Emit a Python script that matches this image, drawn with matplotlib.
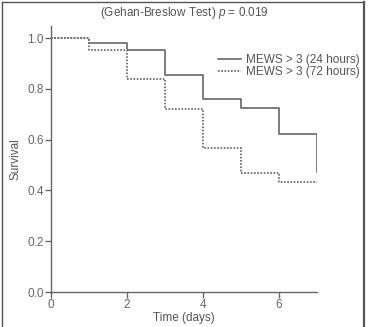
import matplotlib
matplotlib.use('Agg')
import matplotlib.pyplot as plt
from matplotlib.lines import Line2D

plt.rcParams['font.family'] = ['Liberation Sans', 'DejaVu Sans']
plt.rcParams['mathtext.fontset'] = 'custom'
plt.rcParams['mathtext.it'] = 'Liberation Sans:italic'
plt.rcParams['mathtext.rm'] = 'Liberation Sans'

days = [0, 1, 2, 3, 4, 5, 6, 7]
surv_24h = [1.0, 0.981, 0.953, 0.854, 0.762, 0.723, 0.623, 0.474]
surv_72h = [1.0, 0.955, 0.84, 0.719, 0.568, 0.47, 0.432, 0.432]
labels = ['MEWS > 3 (24 hours)', 'MEWS > 3 (72 hours)']
x_ticks = [0, 2, 4, 6]
y_ticks = [0.0, 0.2, 0.4, 0.6, 0.8, 1.0]

text_col = '#555555'
line_col = '#5a5a5a'

fig = plt.figure(figsize=(3.68, 3.27), dpi=100)
ax = fig.add_axes([0.138, 0.107, 0.723, 0.813])

ax.step(days, surv_24h, where='post', color=line_col, lw=1.1, label=labels[0])
ax.step(days, surv_72h, where='post', color='#6a6a6a', lw=1.3,
        linestyle=(0, (0.9, 0.9)), gapcolor='white', label=labels[1])

ax.set_xlim(0, 7)
ax.set_ylim(0, 1.047)
ax.set_xticks(x_ticks)
ax.set_yticks(y_ticks)
ax.set_yticklabels([f'{v:.1f}' for v in y_ticks])
for s in ['top', 'right']:
    ax.spines[s].set_visible(False)
for s in ['left', 'bottom']:
    ax.spines[s].set_color('#666666')
    ax.spines[s].set_linewidth(1.0)
ax.tick_params(direction='out', length=4, width=1.0, color='#666666',
               labelcolor='#666666', labelsize=8.5, pad=1)

ax.set_xlabel('Time (days)', fontsize=8.5, color=text_col, labelpad=1)
ax.set_ylabel('Survival', fontsize=8.5, color=text_col, labelpad=4)

ax.legend(loc='upper left', bbox_to_anchor=(0.63, 0.895), frameon=False,
          fontsize=8.5, handlelength=1.9, handletextpad=0.4,
          labelspacing=0.0, borderpad=0, borderaxespad=0,
          labelcolor=text_col)

fig.text(0.5, 0.96, '(Gehan-Breslow Test) $p$ = 0.019', ha='center', va='center',
         fontsize=8.5, color=text_col)

# outer frame
fr = '#555555'
fig.add_artist(Line2D([2 / 368, 2 / 368], [0, 325 / 327], color=fr, lw=1.0))
fig.add_artist(Line2D([2 / 368, 364 / 368], [325 / 327, 325 / 327], color=fr, lw=1.0))
fig.add_artist(Line2D([364 / 368, 364 / 368], [0, 325 / 327], color=fr, lw=1.6))

fig.savefig('out.png', dpi=100)
